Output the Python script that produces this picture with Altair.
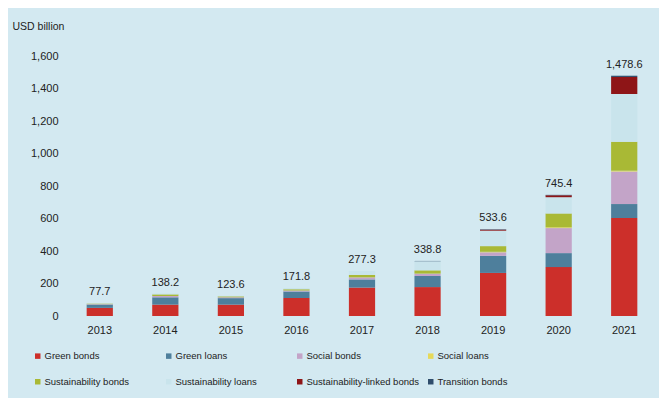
import altair as alt
import pandas as pd

years = ["2013", "2014", "2015", "2016", "2017", "2018", "2019", "2020", "2021"]
categories = [
    "Green bonds", "Green loans", "Social bonds", "Social loans",
    "Sustainability bonds", "Sustainability loans",
    "Sustainability-linked bonds", "Transition bonds",
]
colors = ["#cc2f2a", "#4e7f9c", "#c3a4c8", "#e6d95a",
          "#a9b935", "#c9e4ec", "#8e1517", "#2f4d6c"]

green_bonds = [50, 70, 70, 111, 175, 178, 265, 301, 603]
green_loans = [20, 45, 40, 40, 50, 68, 105, 86, 86]
social_bonds = [3, 8, 5, 6, 12, 14, 22, 154, 200]
social_loans = [0, 0, 0, 0, 1, 1, 3, 5, 5]
sust_bonds = [3, 10, 6, 8, 15, 20, 35, 85, 178]
sust_loans = [1.7, 5.2, 2.6, 6.8, 24.3, 56, 95, 100, 294]
sust_linked = [0, 0, 0, 0, 0, 0, 6, 12, 105]
transition = [0, 0, 0, 0, 0, 1.8, 2.6, 2.4, 7.6]
totals = [77.7, 138.2, 123.6, 171.8, 277.3, 338.8, 533.6, 745.4, 1478.6]
y_ticks = [0, 200, 400, 600, 800, 1000, 1200, 1400, 1600]

series = [green_bonds, green_loans, social_bonds, social_loans,
          sust_bonds, sust_loans, sust_linked, transition]

rows = []
for ci, (cat, vals) in enumerate(zip(categories, series)):
    for y, v in zip(years, vals):
        rows.append({"year": y, "category": cat, "value": v, "order": ci})
df = pd.DataFrame(rows)
df_tot = pd.DataFrame({"year": years, "total": totals})

FONT = "Liberation Sans"

x_axis = alt.Axis(title=None, labelAngle=0, domain=False, ticks=False,
                  labelPadding=8, labelFontSize=11, labelColor="#222",
                  labelFont=FONT)
x_scale = alt.Scale(paddingInner=0.6, paddingOuter=0.3)

y_axis = alt.Axis(values=y_ticks, format=",.0f", domain=False,
                  ticks=False, grid=False, labelPadding=9, labelFontSize=11,
                  labelOverlap=False,
                  labelColor="#222", labelFont=FONT,
                  title="USD billion", titleAngle=0, titleAlign="left",
                  titleBaseline="middle", titleX=-55, titleY=-30,
                  titleFontSize=10.5, titleFontWeight="normal",
                  titleColor="#222", titleFont=FONT)
y_scale = alt.Scale(domain=[0, 1600], nice=False)

bars = alt.Chart(df).mark_bar().encode(
    x=alt.X("year:N", sort=years, scale=x_scale, axis=x_axis),
    y=alt.Y("value:Q", stack="zero", scale=y_scale, axis=y_axis),
    color=alt.Color("category:N",
                    scale=alt.Scale(domain=categories, range=colors),
                    legend=alt.Legend(title=None, orient="none", legendX=-34,
                                      legendY=295, direction="horizontal",
                                      columns=4, gridAlign="all",
                                      columnPadding=7, rowPadding=15,
                                      symbolType="square", symbolSize=30,
                                      symbolStrokeWidth=0, labelFontSize=9.5,
                                      labelColor="#222", labelFont=FONT,
                                      labelOffset=2)),
    order=alt.Order("order:Q", sort="ascending"),
)

labels = alt.Chart(df_tot).mark_text(
    baseline="bottom", dy=-6, fontSize=11, color="#222", font=FONT
).encode(
    x=alt.X("year:N", sort=years, scale=x_scale, axis=None),
    y=alt.Y("total:Q", scale=y_scale, axis=None),
    text=alt.Text("total:Q", format=",.1f"),
)

chart = alt.layer(bars, labels).resolve_axis(
    x="independent", y="independent"
).properties(
    width=590, height=260,
    background="#d3e9f1",
    padding={"left": 59, "top": 48, "right": 2, "bottom": 82},
    autosize=alt.AutoSizeParams(type="none"),
).configure_view(stroke=None)

chart.save("out.html", embed_options={"renderer": "svg", "actions": False})
